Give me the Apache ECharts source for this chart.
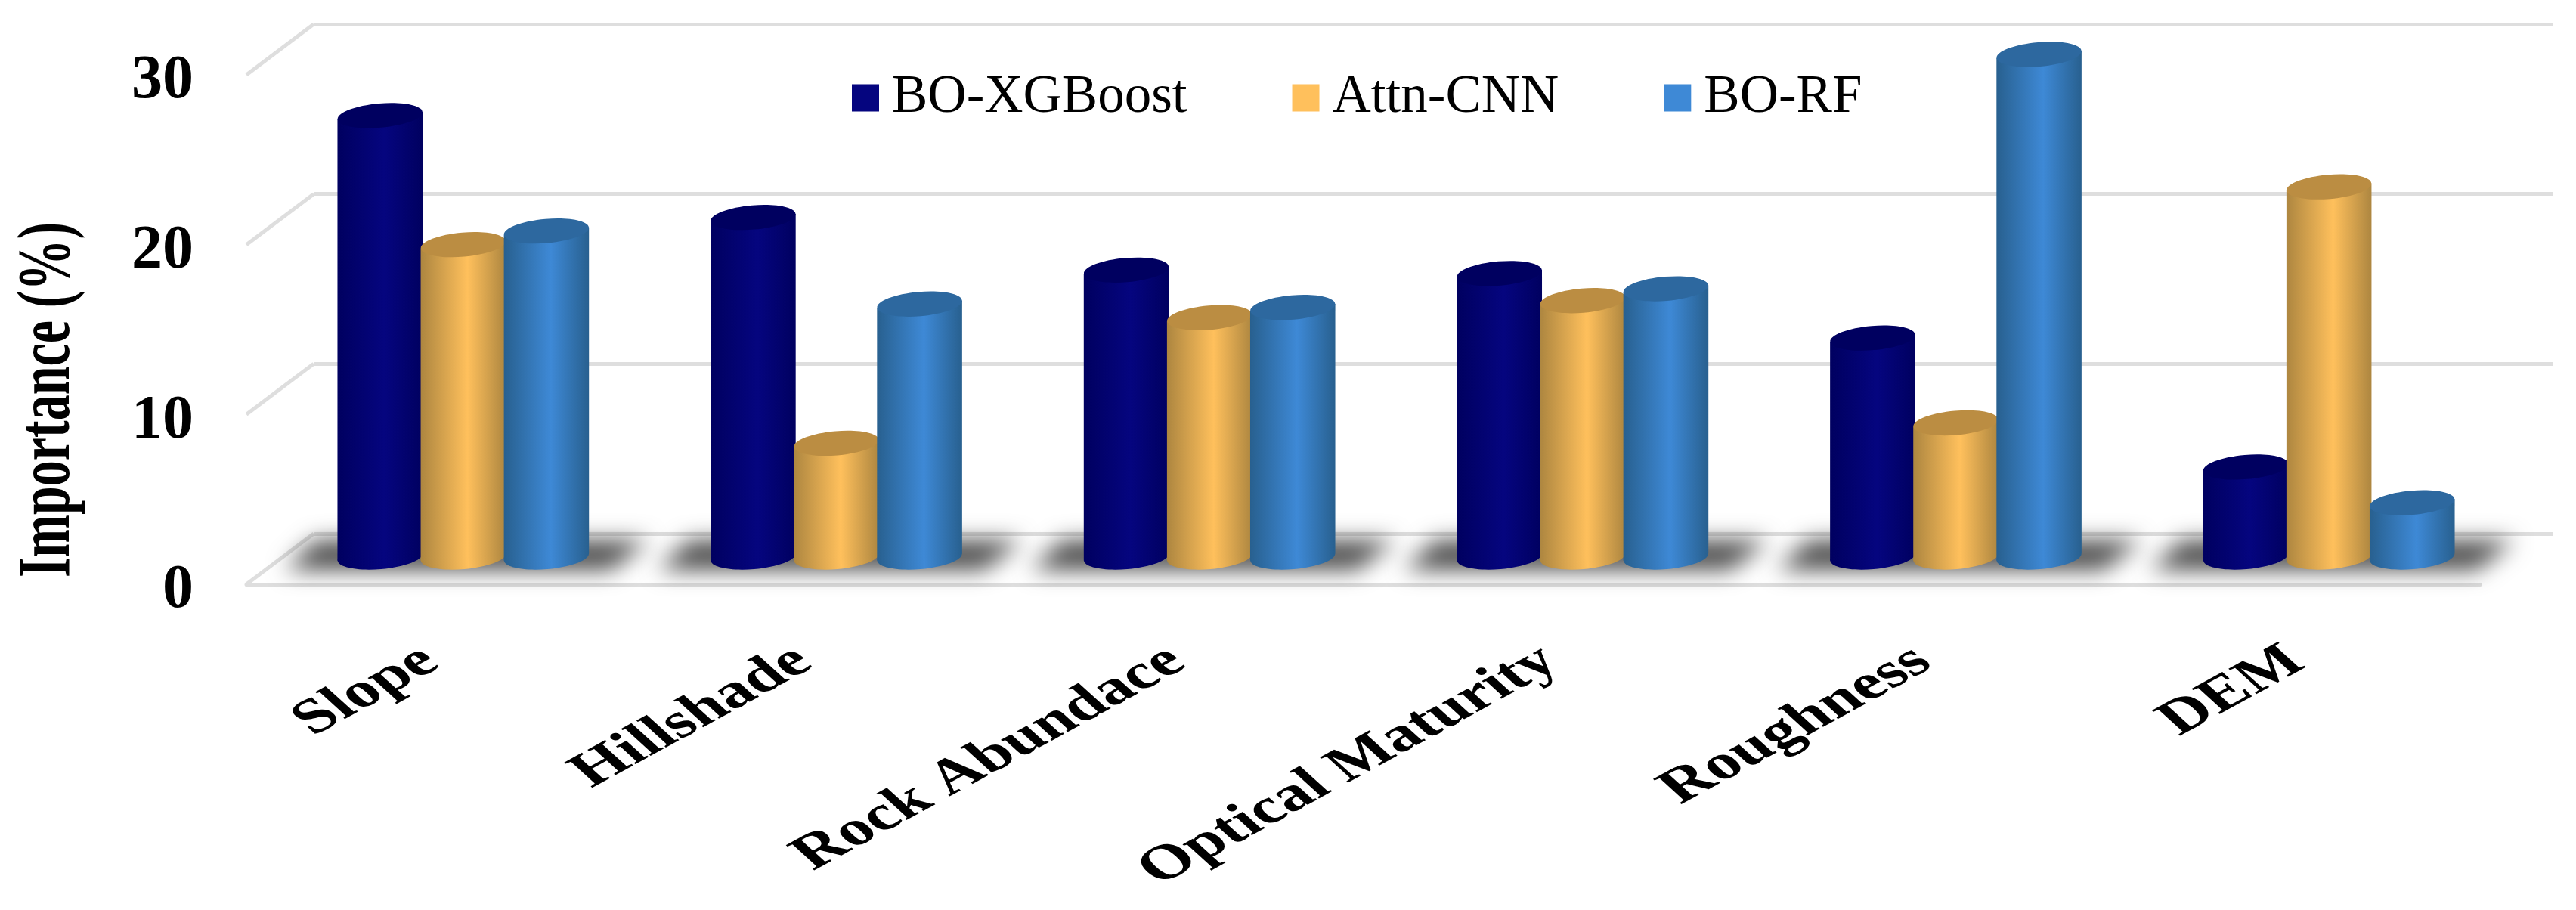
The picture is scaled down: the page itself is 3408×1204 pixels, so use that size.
<!DOCTYPE html>
<html>
<head>
<meta charset="utf-8">
<title>Importance chart</title>
<style>
  html, body { margin: 0; padding: 0; background: #fff; }
  #chart { width: 3408px; height: 1204px; }
</style>
<script src="https://cdn.jsdelivr.net/npm/echarts@6/dist/echarts.min.js"></script>
</head>
<body>
<div id="chart"></div>
<script>
const categories = ["Slope", "Hillshade", "Rock Abundace", "Optical Maturity", "Roughness", "DEM"];
const boXGBoost = [26.0, 20.0, 16.9, 16.7, 12.9, 5.3];
const attnCNN = [18.4, 6.7, 14.1, 15.1, 7.9, 21.8];
const boRF = [19.2, 14.9, 14.7, 15.8, 29.6, 3.2];
const valueTicks = [0, 10, 20, 30];

const FONT = "Liberation Serif";
const LINE = "#dedede";
const DEPTH_X = -89; // back wall to front edge
const DEPTH_Y = 67;
const PLOT_H = 674;
const SHADOW_SHIFT = 5000; // shape sits off canvas so only its blur shows

// one cylinder per value, offset is the bar's slot inside the category
const cylinder = (offset, edge, mid, top) => (params, api) => {
  const base = api.coord([api.value(0), 0]);
  const head = api.coord([api.value(0), api.value(1)]);
  const step = api.size([1, 0])[0];
  const cx = base[0] + offset * step * 0.223;
  const rx = step * 0.114;
  const ry = 16;
  const tilt = 0.085;
  const dy = rx * Math.sin(tilt);
  const fill = new echarts.graphic.LinearGradient(0, 0, 1, 0, [
    { offset: 0, color: edge },
    { offset: 0.55, color: mid },
    { offset: 1, color: edge },
  ]);
  const ellipse = (y, color) => ({
    type: "ellipse",
    x: cx,
    y: y,
    rotation: tilt,
    shape: { cx: 0, cy: 0, rx: rx, ry: ry },
    style: { fill: color },
  });
  return {
    type: "group",
    children: [
      ellipse(base[1], fill),
      {
        type: "polygon",
        shape: {
          points: [
            [cx - rx, base[1] + dy],
            [cx - rx, head[1] + dy],
            [cx + rx, head[1] - dy],
            [cx + rx, base[1] - dy],
          ],
        },
        style: { fill: fill },
      },
      ellipse(head[1], top),
    ],
  };
};

const barSeries = (name, values, offset, edge, mid, top) => ({
  name: name,
  type: "custom",
  xAxisIndex: 2,
  yAxisIndex: 2,
  z: 5,
  itemStyle: { color: mid },
  encode: { x: 0, y: 1 },
  data: values.map((v, i) => [i, v]),
  renderItem: cylinder(offset, edge, mid, top),
});

// blurred floor shadow under each group
const shadowSeries = {
  type: "custom",
  xAxisIndex: 2,
  yAxisIndex: 2,
  z: 3,
  silent: true,
  clip: false,
  encode: { x: 0, y: 1 },
  data: categories.map((c, i) => [i, 0]),
  renderItem: (params, api) => {
    const p = api.coord([api.value(0), 0]);
    const x = p[0] - SHADOW_SHIFT;
    return {
      type: "polygon",
      shape: {
        points: [
          [x - 195, p[1] - 22],
          [x + 245, p[1] - 22],
          [x + 195, p[1] + 17],
          [x - 235, p[1] + 17],
        ],
      },
      style: {
        fill: "#4c4c4c",
        shadowBlur: 30,
        shadowColor: "#4c4c4c",
        shadowOffsetX: SHADOW_SHIFT,
      },
    };
  },
};

// side wall lines from the back wall to the front edge
const sideSeries = {
  type: "custom",
  xAxisIndex: 0,
  yAxisIndex: 0,
  z: 2,
  silent: true,
  encode: { x: 0, y: 1 },
  data: valueTicks.map((v) => [0, v]),
  renderItem: (params, api) => {
    const p = api.coord([0, api.value(1)]);
    const x0 = params.coordSys.x;
    return {
      type: "line",
      shape: { x1: x0, y1: p[1], x2: x0 + DEPTH_X, y2: p[1] + DEPTH_Y },
      style: { stroke: LINE, lineWidth: 5 },
    };
  },
};

// category labels are rotated and then stretched sideways like the source picture
const labelSeries = {
  type: "custom",
  xAxisIndex: 2,
  yAxisIndex: 2,
  z: 6,
  silent: true,
  encode: { x: 0, y: 1 },
  data: categories.map((c, i) => [i, 0]),
  renderItem: (params, api) => {
    const p = api.coord([api.value(0), 0]);
    return {
      type: "group",
      x: p[0] - 43,
      y: p[1] + 131,
      scaleX: 1.42,
      children: [
        {
          type: "text",
          rotation: 0.66,
          style: {
            text: categories[params.dataIndex],
            fontFamily: FONT,
            fontWeight: "bold",
            fontSize: 65,
            fill: "#000",
            align: "right",
            verticalAlign: "middle",
          },
        },
      ],
    };
  },
};

const option = {
  backgroundColor: "#fff",
  animation: false,
  legend: {
    left: 1122,
    top: 89,
    itemWidth: 36,
    itemHeight: 36,
    itemGap: 139,
    icon: "rect",
    data: ["BO-XGBoost", "Attn-CNN", "BO-RF"],
    textStyle: { fontFamily: FONT, fontSize: 71, color: "#000", padding: [0, 0, 0, 12] },
  },
  graphic: [
    {
      type: "text",
      x: 65,
      y: 529,
      rotation: Math.PI / 2,
      scaleX: 0.68,
      style: {
        text: "Importance (%)",
        fontFamily: FONT,
        fontWeight: "bold",
        fontSize: 100,
        fill: "#000",
        align: "center",
        verticalAlign: "middle",
      },
    },
  ],
  grid: [
    { left: 415, right: 31, top: 32, height: PLOT_H },
    { left: 326, right: 127, top: 32 + DEPTH_Y, height: PLOT_H },
    { left: 366, right: 80, top: 63, height: PLOT_H },
    { left: 326, right: 127, top: 32 + DEPTH_Y + 9, height: PLOT_H }, // carries the value labels
  ],
  xAxis: [
    { gridIndex: 0, type: "category", data: categories, show: false },
    {
      gridIndex: 1,
      type: "category",
      data: categories,
      axisLine: { lineStyle: { color: LINE, width: 5 } },
      axisTick: { show: false },
      axisLabel: { show: false },
    },
    { gridIndex: 2, type: "category", data: categories, show: false },
    { gridIndex: 3, type: "category", data: categories, show: false },
  ],
  yAxis: [
    {
      gridIndex: 0,
      type: "value",
      min: 0,
      max: 30,
      interval: 10,
      axisLine: { show: false },
      axisTick: { show: false },
      axisLabel: { show: false },
      splitLine: { show: true, lineStyle: { color: LINE, width: 5 } },
    },
    { gridIndex: 1, type: "value", min: 0, max: 30, interval: 10, show: false, splitLine: { show: false } },
    { gridIndex: 2, type: "value", min: 0, max: 30, interval: 10, show: false, splitLine: { show: false } },
    {
      gridIndex: 3,
      type: "value",
      min: 0,
      max: 30,
      interval: 10,
      axisLine: { show: false },
      axisTick: { show: false },
      splitLine: { show: false },
      axisLabel: {
        margin: 70,
        color: "#000",
        fontFamily: FONT,
        fontWeight: "bold",
        fontSize: 82,
      },
    },
  ],
  series: [
    sideSeries,
    shadowSeries,
    barSeries("BO-XGBoost", boXGBoost, -1, "#000060", "#05057f", "#000060"),
    barSeries("Attn-CNN", attnCNN, 0, "#ad8640", "#ffc05c", "#bb8d42"),
    barSeries("BO-RF", boRF, 1, "#28608f", "#3e89d6", "#2d689f"),
    labelSeries,
  ],
};

const myChart = echarts.init(document.getElementById("chart"));
myChart.setOption(option);
</script>
</body>
</html>
